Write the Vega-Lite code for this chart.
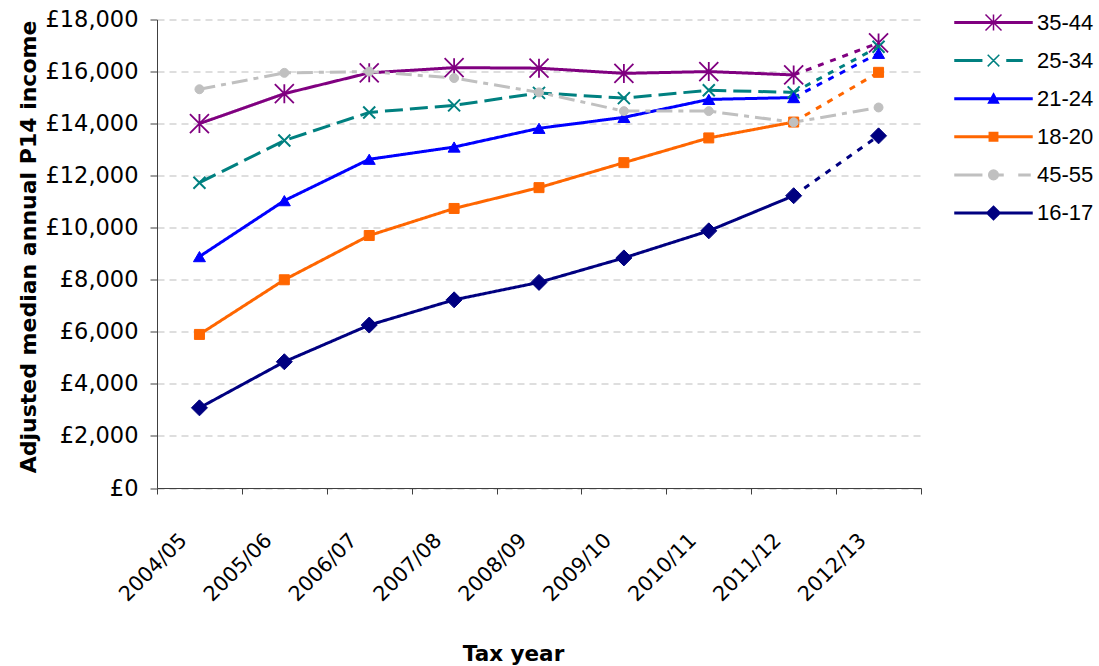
{
  "$schema": "https://vega.github.io/schema/vega-lite/v6.json",
  "width": 764,
  "height": 468.5,
  "autosize": "none",
  "padding": {"left": 157, "top": 19.5, "right": 178, "bottom": 178},
  "config": {
    "view": {"stroke": null},
    "font": "DejaVu Sans",
    "axis": {"labelFont": "DejaVu Sans", "titleFont": "DejaVu Sans", "labelColor": "#000000", "titleColor": "#000000"}
  },
  "data": {
    "values": [
      {"group": "35-44", "year": "2004/05", "value": 14000},
      {"group": "35-44", "year": "2005/06", "value": 15150},
      {"group": "35-44", "year": "2006/07", "value": 15950},
      {"group": "35-44", "year": "2007/08", "value": 16150},
      {"group": "35-44", "year": "2008/09", "value": 16130},
      {"group": "35-44", "year": "2009/10", "value": 15930},
      {"group": "35-44", "year": "2010/11", "value": 16000},
      {"group": "35-44", "year": "2011/12", "value": 15870},
      {"group": "35-44", "year": "2012/13", "value": 17100},
      {"group": "25-34", "year": "2004/05", "value": 11730},
      {"group": "25-34", "year": "2005/06", "value": 13350},
      {"group": "25-34", "year": "2006/07", "value": 14430},
      {"group": "25-34", "year": "2007/08", "value": 14700},
      {"group": "25-34", "year": "2008/09", "value": 15180},
      {"group": "25-34", "year": "2009/10", "value": 14980},
      {"group": "25-34", "year": "2010/11", "value": 15280},
      {"group": "25-34", "year": "2011/12", "value": 15200},
      {"group": "25-34", "year": "2012/13", "value": 16950},
      {"group": "21-24", "year": "2004/05", "value": 8890},
      {"group": "21-24", "year": "2005/06", "value": 11040},
      {"group": "21-24", "year": "2006/07", "value": 12630},
      {"group": "21-24", "year": "2007/08", "value": 13100},
      {"group": "21-24", "year": "2008/09", "value": 13820},
      {"group": "21-24", "year": "2009/10", "value": 14240},
      {"group": "21-24", "year": "2010/11", "value": 14930},
      {"group": "21-24", "year": "2011/12", "value": 15000},
      {"group": "21-24", "year": "2012/13", "value": 16700},
      {"group": "18-20", "year": "2004/05", "value": 5900},
      {"group": "18-20", "year": "2005/06", "value": 8000},
      {"group": "18-20", "year": "2006/07", "value": 9700},
      {"group": "18-20", "year": "2007/08", "value": 10740},
      {"group": "18-20", "year": "2008/09", "value": 11540},
      {"group": "18-20", "year": "2009/10", "value": 12500},
      {"group": "18-20", "year": "2010/11", "value": 13450},
      {"group": "18-20", "year": "2011/12", "value": 14060},
      {"group": "18-20", "year": "2012/13", "value": 15970},
      {"group": "45-55", "year": "2004/05", "value": 15320},
      {"group": "45-55", "year": "2005/06", "value": 15950},
      {"group": "45-55", "year": "2006/07", "value": 16000},
      {"group": "45-55", "year": "2007/08", "value": 15750},
      {"group": "45-55", "year": "2008/09", "value": 15200},
      {"group": "45-55", "year": "2009/10", "value": 14480},
      {"group": "45-55", "year": "2010/11", "value": 14480},
      {"group": "45-55", "year": "2011/12", "value": 14050},
      {"group": "45-55", "year": "2012/13", "value": 14620},
      {"group": "16-17", "year": "2004/05", "value": 3080},
      {"group": "16-17", "year": "2005/06", "value": 4850},
      {"group": "16-17", "year": "2006/07", "value": 6260},
      {"group": "16-17", "year": "2007/08", "value": 7230},
      {"group": "16-17", "year": "2008/09", "value": 7900},
      {"group": "16-17", "year": "2009/10", "value": 8840},
      {"group": "16-17", "year": "2010/11", "value": 9880},
      {"group": "16-17", "year": "2011/12", "value": 11230},
      {"group": "16-17", "year": "2012/13", "value": 13530}
    ]
  },
  "encoding": {
    "x": {
      "field": "year",
      "type": "ordinal",
      "scale": {"type": "band", "paddingInner": 0, "paddingOuter": 0},
      "axis": {
        "title": "Tax year",
        "titleFontSize": 21.5,
        "titleFontWeight": "bold",
        "titleX": 356,
        "titleY": 155,
        "labelAngle": -45,
        "labelAlign": "right",
        "labelBaseline": "middle",
        "labelFontSize": 20.7,
        "labelPadding": 43,
        "labelOffset": -16,
        "tickBand": "extent",
        "tickSize": 6,
        "tickColor": "#404040",
        "domainColor": "#404040",
        "grid": false
      }
    },
    "y": {
      "field": "value",
      "type": "quantitative",
      "scale": {"domain": [0, 18000]},
      "axis": {
        "title": "Adjusted median annual P14 income",
        "titleFontSize": 22,
        "titleFontWeight": "bold",
        "titlePadding": 4,
        "titleY": 227,
        "values": [0, 2000, 4000, 6000, 8000, 10000, 12000, 14000, 16000, 18000],
        "labelExpr": "'£' + format(datum.value, ',')",
        "labelFontSize": 22.5,
        "labelPadding": 12,
        "tickSize": 7,
        "tickColor": "#404040",
        "domainColor": "#404040",
        "grid": true,
        "gridDash": [7, 5],
        "gridColor": "#BDBDBD"
      }
    }
  },
  "layer": [
    {
      "transform": [{"filter": "datum.year != '2012/13' || datum.group == '45-55'"}],
      "mark": {"type": "line", "strokeWidth": 3},
      "encoding": {
        "color": {
          "field": "group", "type": "nominal", "legend": null,
          "scale": {"domain": ["16-17", "18-20", "21-24", "25-34", "35-44", "45-55"], "range": ["#000080", "#FF6600", "#0000FF", "#008080", "#800080", "#C0C0C0"]}
        },
        "strokeDash": {
          "field": "group", "type": "nominal", "legend": null,
          "scale": {"domain": ["16-17", "18-20", "21-24", "25-34", "35-44", "45-55"], "range": [[1, 0], [1, 0], [1, 0], [18, 7], [1, 0], [16, 6, 5, 6]]}
        }
      }
    },
    {
      "transform": [{"filter": "(datum.year == '2011/12' || datum.year == '2012/13') && datum.group != '45-55'"}],
      "mark": {"type": "line", "strokeWidth": 3, "strokeDash": [6, 7]},
      "encoding": {
        "color": {"field": "group", "type": "nominal", "legend": null}
      }
    },
    {
      "transform": [{"filter": "datum.group == '35-44'"}],
      "mark": {"type": "point", "shape": "M0,-1V1M-1,-1L1,1M-1,1L1,-1", "filled": false, "color": "#800080", "size": 361, "strokeWidth": 1.8, "opacity": 1}
    },
    {
      "transform": [{"filter": "datum.group == '25-34'"}],
      "mark": {"type": "point", "shape": "M-1,-1L1,1M-1,1L1,-1", "filled": false, "color": "#008080", "size": 144, "strokeWidth": 2, "opacity": 1}
    },
    {
      "transform": [{"filter": "datum.group == '21-24'"}],
      "mark": {"type": "point", "shape": "M0,-0.85L1,0.85L-1,0.85Z", "filled": true, "color": "#0000FF", "stroke": "#0000FF", "size": 144, "strokeWidth": 1, "opacity": 1}
    },
    {
      "transform": [{"filter": "datum.group == '18-20'"}],
      "mark": {"type": "point", "shape": "M-1,-1H1V1H-1Z", "filled": true, "color": "#FF6600", "stroke": "#FF6600", "size": 100, "strokeWidth": 1, "opacity": 1}
    },
    {
      "transform": [{"filter": "datum.group == '45-55'"}],
      "mark": {"type": "point", "shape": "circle", "filled": true, "color": "#C0C0C0", "stroke": "#C0C0C0", "size": 80, "strokeWidth": 1, "opacity": 1}
    },
    {
      "transform": [{"filter": "datum.group == '16-17'"}],
      "mark": {"type": "point", "shape": "M0,-1L1,0L0,1L-1,0Z", "filled": true, "color": "#000080", "stroke": "#000080", "size": 256, "strokeWidth": 1, "opacity": 1}
    },
    {
      "transform": [{"filter": "datum.value < 0"}],
      "mark": {"type": "point", "filled": true, "opacity": 1, "strokeWidth": 1.5},
      "encoding": {
        "fill": {
          "field": "group", "type": "nominal",
          "scale": {"domain": ["35-44", "25-34", "21-24", "18-20", "45-55", "16-17"], "range": ["#800080", "#008080", "#0000FF", "#FF6600", "#C0C0C0", "#000080"]},
          "legend": {"title": null, "orient": "none", "legendX": 798, "legendY": -8, "symbolSize": 400, "symbolStrokeWidth": 1.5, "symbolOffset": 27.5, "rowPadding": 16.1, "labelFont": "Liberation Sans", "labelFontSize": 22, "labelColor": "#000000", "labelOffset": 32.5, "padding": 0}
        },
        "stroke": {
          "field": "group", "type": "nominal",
          "scale": {"domain": ["35-44", "25-34", "21-24", "18-20", "45-55", "16-17"], "range": ["#800080", "#008080", "#0000FF", "#FF6600", "#C0C0C0", "#000080"]},
          "legend": {"title": null, "orient": "none", "legendX": 798, "legendY": -8, "symbolSize": 400, "symbolStrokeWidth": 1.5, "symbolOffset": 27.5, "rowPadding": 16.1, "labelFont": "Liberation Sans", "labelFontSize": 22, "labelColor": "#000000", "labelOffset": 32.5, "padding": 0}
        },
        "shape": {
          "field": "group", "type": "nominal",
          "scale": {
            "domain": ["35-44", "25-34", "21-24", "18-20", "45-55", "16-17"],
            "range": [
              "M-3.85,-0.075H3.85V0.075H-3.85Z M-0.8,-0.8L0.8,0.8 M-0.8,0.8L0.8,-0.8 M0,-0.8V0.8",
              "M-3.85,-0.075H-1.18V0.075H-3.85Z M1.35,-0.075H2.85V0.075H1.35Z M-0.58,-0.58L0.58,0.58 M-0.58,0.58L0.58,-0.58",
              "M-3.85,-0.075H3.85V0.075H-3.85Z M0,-0.5L0.5,0.42H-0.5Z",
              "M-3.85,-0.075H3.85V0.075H-3.85Z M-0.42,-0.42H0.42V0.42H-0.42Z",
              "M-3.85,-0.075H-1.18V0.075H-3.85Z M0.35,-0.075H0.95V0.075H0.35Z M2.55,-0.075H3.65V0.075H2.55Z M0.48,0A0.48,0.48,0,1,1,-0.48,0A0.48,0.48,0,1,1,0.48,0Z",
              "M-3.85,-0.075H3.85V0.075H-3.85Z M0,-0.68L0.68,0L0,0.68L-0.68,0Z"
            ]
          },
          "legend": {"title": null, "orient": "none", "legendX": 798, "legendY": -8, "symbolSize": 400, "symbolStrokeWidth": 1.5, "symbolOffset": 27.5, "rowPadding": 16.1, "labelFont": "Liberation Sans", "labelFontSize": 22, "labelColor": "#000000", "labelOffset": 32.5, "padding": 0}
        }
      }
    }
  ]
}
